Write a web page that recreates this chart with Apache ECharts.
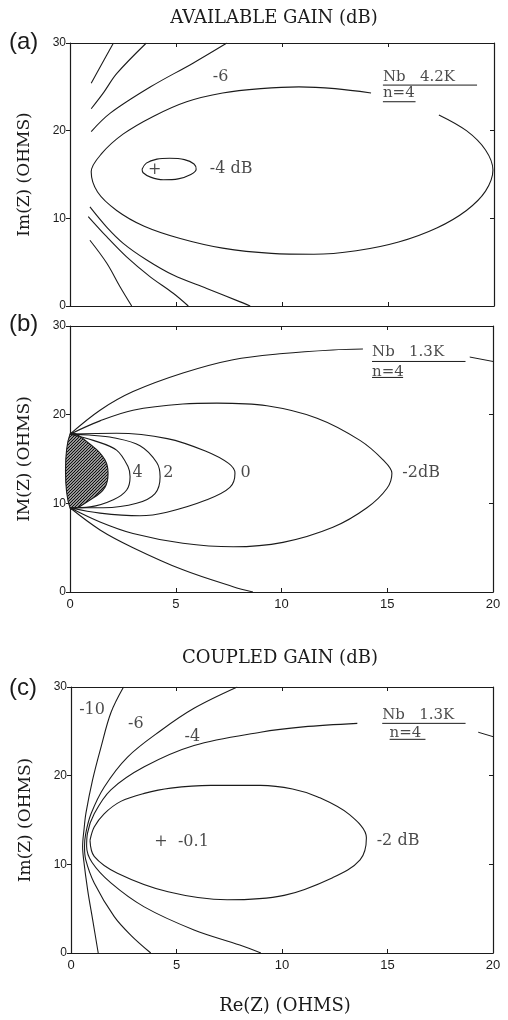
<!DOCTYPE html>
<html><head><meta charset="utf-8">
<script src="https://cdn.jsdelivr.net/npm/echarts@6/dist/echarts.min.js"></script>
<style>html,body{margin:0;padding:0;background:#fff}#c{width:508px;height:1020px}</style>
</head><body><div id="c"></div>
<script>
// ---- axis ticks ----
const xTicks = [0, 5, 10, 15, 20];
const yTicks = [0, 10, 20, 30];

// ---- panel (a) AVAILABLE GAIN, Nb 4.2K ----
const aMain = [[14.2,24.3],[12.5,24.8],[10.8,25.0],[9.0,24.8],[7.2,24.3],[5.5,23.3],[3.9,21.6],[2.5,19.6],[1.5,17.4],[1.0,15.3],[1.3,13.0],[2.2,10.9],[3.5,9.1],[5.2,7.7],[7.2,6.6],[9.5,6.0],[11.5,5.9],[13.5,6.3],[15.5,7.3],[17.3,8.9],[18.7,10.9],[19.6,13.1],[19.95,15.5],[19.6,17.8],[18.7,20.0],[17.4,21.8]];
const aSmall = [[3.4,15.6],[3.6,16.3],[4.1,16.75],[4.7,16.85],[5.4,16.7],[5.85,16.2],[5.95,15.6],[5.7,15.0],[5.1,14.5],[4.4,14.4],[3.8,14.7],[3.45,15.2],[3.4,15.6]];
const aUp1 = [[1.0,25.4],[1.5,27.6],[2.05,30]];
const aUp2 = [[1.0,22.5],[1.6,24.4],[2.2,26.5],[3.6,30]];
const aUp3 = [[1.0,19.9],[1.9,22.0],[3.8,25.0],[5.8,27.7],[7.4,30]];
const aLow1 = [[0.94,11.3],[1.73,9.0],[2.51,7.15],[3.62,5.25],[4.87,3.53],[6.45,2.0],[8.0,0.5],[8.5,0]];
const aLow2 = [[0.86,10.2],[1.73,7.9],[2.67,5.6],[3.77,3.35],[4.87,1.45],[5.58,0]];
const aLow3 = [[0.94,7.5],[1.73,4.9],[2.36,2.2],[2.91,0]];
const aLabels = [['-6',7.1,26.1],['-4 dB',7.6,15.6],['+',4.0,15.5]];
const aNote = [['Nb   4.2K',14.76,26.1],['n=4',14.76,24.3]];
const aUnder = [[[14.76,25.2],[19.2,25.2]],[[14.76,23.3],[16.3,23.3]]];

// ---- panel (b) Nb 1.3K ----
const bC4 = [[0,17.8],[1.1,17.1],[2.2,16.0],[2.75,14.1],[2.84,13.0],[2.68,11.5],[2.05,10.4],[0.95,9.6],[0,9.5]];
const bC2 = [[0,17.8],[0.9,17.7],[2.05,17.4],[3.31,16.5],[4.1,14.6],[4.26,13.0],[4.02,11.1],[3.15,10.0],[1.58,9.5],[0,9.5]];
const bC0 = [[0,17.8],[2.2,17.9],[4.6,17.3],[6.4,15.9],[7.5,14.5],[7.8,13.4],[7.56,11.8],[6.47,10.4],[4.58,9.0],[3.31,8.6],[1.42,8.9],[0,9.5]];
const bCm2 = [[0,17.8],[1.42,19.3],[2.98,20.5],[5.34,21.2],[6.95,21.3],[9.31,21.0],[11.68,19.6],[13.71,17.1],[14.8,14.9],[15.22,13.4],[14.99,11.7],[14.04,9.5],[12.43,7.3],[10.07,5.6],[7.71,5.1],[5.34,5.5],[2.98,6.6],[1.42,7.9],[0,9.5]];
const bTop = [[0,17.8],[1.42,20.5],[2.98,22.6],[5.34,24.7],[7.71,26.2],[10.07,26.9],[12.43,27.3],[13.85,27.4]];
const bTopR = [[18.9,26.5],[20,26.0]];
const bBot = [[0,9.5],[1.42,7.0],[2.98,5.0],[5.34,2.5],[7.71,0.6],[8.65,0]];
const bHatch = [[0,17.8],[1.09,16.4],[1.65,14.9],[1.8,13.4],[1.65,11.8],[1.09,10.6],[0,9.5]];
const bLabels = [['4',3.2,13.4],['2',4.65,13.4],['0',8.3,13.4],['-2dB',16.6,13.4]];
const bNote = [['Nb   1.3K',14.28,27.1],['n=4',14.28,24.8]];
const bUnder = [[[14.28,26.0],[18.7,26.0]],[[14.28,24.2],[15.75,24.2]]];

// ---- panel (c) COUPLED GAIN, Nb 1.3K ----
const cM2 = [[0.9,12.7],[1.1,14.2],[1.57,15.7],[2.36,17.1],[3.47,18.0],[4.73,18.6],[6.62,18.9],[8.98,18.9],[10.5,18.5],[11.7,17.6],[13.2,15.6],[14.0,13.0],[13.7,10.5],[12.4,8.5],[10.1,6.5],[7.4,6.0],[4.6,6.9],[2.2,9.0],[1.1,10.9],[0.9,12.7]];
const cM10 = [[1.29,0],[1.03,3.7],[0.79,7.1],[0.6,10.5],[0.55,12.0],[0.62,14.0],[0.71,15.8],[1.02,19.5],[1.42,23.2],[1.89,27.1],[2.49,30]];
const cM6 = [[3.78,0],[2.84,2.0],[2.05,4.1],[1.1,7.9],[0.7,10.5],[0.64,12.0],[0.7,13.5],[0.95,15.7],[1.57,18.7],[2.68,22.1],[4.26,25.1],[5.83,27.6],[7.88,30]];
const cM4 = [[9.0,0],[8.0,0.9],[5.83,2.6],[3.47,5.2],[1.89,7.9],[1.0,10.2],[0.74,12.0],[0.78,13.5],[1.1,15.7],[1.89,18.4],[3.47,21.0],[5.83,23.4],[8.98,24.9],[11.0,25.5],[13.57,25.9]];
const cM4R = [[19.3,24.9],[20,24.4]];
const cLabels = [['-10',1.0,27.4],['-6',3.07,25.9],['-4',5.75,24.4],['+',4.26,12.5],['-0.1',5.8,12.5],['-2 dB',15.5,12.7]];
const cNote = [['Nb   1.3K',14.75,26.8],['n=4',15.1,24.8]];
const cUnder = [[[14.75,25.9],[18.7,25.9]],[[15.1,24.1],[16.8,24.1]]];

// ---- build chart ----
const INK = '#1b1b1b';
const SERIF = '"DejaVu Serif", "Liberation Serif", serif';
const SANS = '"Liberation Sans", Arial, sans-serif';
const grids = [
  {left: 70, top: 43, width: 424, height: 263},
  {left: 70, top: 326, width: 423, height: 266},
  {left: 71, top: 687, width: 422, height: 266}
];
const yNames = ['Im(Z) (OHMS)', 'IM(Z) (OHMS)', 'Im(Z) (OHMS)'];
const showX = [false, true, true];

const xAxes = [], yAxes = [];
grids.forEach((g, i) => {
  const tick = {show: true, inside: true, length: 4, lineStyle: {color: INK}};
  const line = {show: true, onZero: false, lineStyle: {color: INK, width: 1.2}};
  xAxes.push({type: 'value', gridIndex: i, min: xTicks[0], max: xTicks[xTicks.length-1], interval: xTicks[1]-xTicks[0], position: 'bottom',
    axisLine: line, axisTick: tick, splitLine: {show: false},
    axisLabel: {show: showX[i], color: INK, fontFamily: SANS, fontSize: 13, margin: 6}});
  xAxes.push({type: 'value', gridIndex: i, min: xTicks[0], max: xTicks[xTicks.length-1], interval: xTicks[1]-xTicks[0], position: 'top',
    axisLine: line, axisTick: tick, splitLine: {show: false}, axisLabel: {show: false}});
  yAxes.push({type: 'value', gridIndex: i, min: yTicks[0], max: yTicks[yTicks.length-1], interval: yTicks[1]-yTicks[0], position: 'left',
    axisLine: line, axisTick: {show: true, inside: false, length: 4, lineStyle: {color: INK}}, splitLine: {show: false},
    axisLabel: {color: INK, fontFamily: SANS, fontSize: 12, margin: 4},
    name: yNames[i], nameLocation: 'middle', nameRotate: 90, nameGap: 37,
    nameTextStyle: {color: INK, fontFamily: SERIF, fontSize: 17}});
  yAxes.push({type: 'value', gridIndex: i, min: yTicks[0], max: yTicks[yTicks.length-1], interval: yTicks[1]-yTicks[0], position: 'right',
    axisLine: line, axisTick: tick, splitLine: {show: false}, axisLabel: {show: false}});
});

const series = [];
function curve(data, gi) {
  series.push({type: 'line', xAxisIndex: gi*2, yAxisIndex: gi*2, data: data, showSymbol: false, symbol: 'none',
    smooth: 0.35, lineStyle: {color: INK, width: 1.1}, silent: true, z: 3});
}
function straight(data, gi) {
  series.push({type: 'line', xAxisIndex: gi*2, yAxisIndex: gi*2, data: data, showSymbol: false, symbol: 'none',
    smooth: false, lineStyle: {color: INK, width: 1}, silent: true, z: 3});
}
function texts(list, gi, size, align) {
  series.push({type: 'scatter', xAxisIndex: gi*2, yAxisIndex: gi*2, symbolSize: 0, silent: true, z: 5,
    data: list.map(t => ({name: t[0], value: [t[1], t[2]]})),
    label: {show: true, position: 'inside', formatter: '{b}', color: INK, fontFamily: SERIF, fontSize: size, align: align}});
}

[aMain, aSmall, aUp1, aUp2, aUp3, aLow1, aLow2, aLow3].forEach(d => curve(d, 0));
[bC4, bC2, bC0, bCm2, bTop, bBot].forEach(d => curve(d, 1));
straight(bTopR, 1);
[cM2, cM10, cM6, cM4].forEach(d => curve(d, 2));
straight(cM4R, 2);
aUnder.forEach(d => straight(d, 0));
bUnder.forEach(d => straight(d, 1));
cUnder.forEach(d => straight(d, 2));
texts(aLabels, 0, 16, 'center');
texts(aNote, 0, 15, 'left');
texts(bLabels, 1, 16, 'center');
texts(bNote, 1, 15, 'left');
texts(cLabels, 2, 16, 'center');
texts(cNote, 2, 15, 'left');

// hatched region
const pc = document.createElement('canvas');
pc.width = 3; pc.height = 3;
const px = pc.getContext('2d');
px.fillStyle = '#fff'; px.fillRect(0, 0, 3, 3);
px.strokeStyle = '#111'; px.lineWidth = 1.3;
px.beginPath(); px.moveTo(0, 3); px.lineTo(3, 0); px.moveTo(-1, 1); px.lineTo(1, -1); px.moveTo(2, 4); px.lineTo(4, 2); px.stroke();
series.push({type: 'custom', xAxisIndex: 2, yAxisIndex: 2, silent: true, z: 2, data: [[0, 0]],
  renderItem: function (params, api) {
    return {type: 'polygon', shape: {points: bHatch.map(p => api.coord(p)), smooth: 0.35},
      style: {fill: {image: pc, repeat: 'repeat'}, stroke: INK, lineWidth: 1.1}};
  }});

const graphic = [
  {type: 'text', x: 274, y: 9, style: {text: 'AVAILABLE GAIN (dB)', fill: INK, font: '18px ' + SERIF, textAlign: 'center'}},
  {type: 'text', x: 280, y: 649, style: {text: 'COUPLED GAIN (dB)', fill: INK, font: '18px ' + SERIF, textAlign: 'center'}},
  {type: 'text', x: 285, y: 997, style: {text: 'Re(Z) (OHMS)', fill: INK, font: '18px ' + SERIF, textAlign: 'center'}},
  {type: 'text', x: 9, y: 30, style: {text: '(a)', fill: INK, font: '24px ' + SANS}},
  {type: 'text', x: 9, y: 312, style: {text: '(b)', fill: INK, font: '24px ' + SANS}},
  {type: 'text', x: 9, y: 676, style: {text: '(c)', fill: INK, font: '24px ' + SANS}}
];

const chart = echarts.init(document.getElementById('c'), null, {renderer: 'canvas'});
chart.setOption({
  animation: false,
  backgroundColor: '#fff',
  grid: grids.map(g => Object.assign({containLabel: false}, g)),
  xAxis: xAxes, yAxis: yAxes, series: series, graphic: graphic
});
</script></body></html>
